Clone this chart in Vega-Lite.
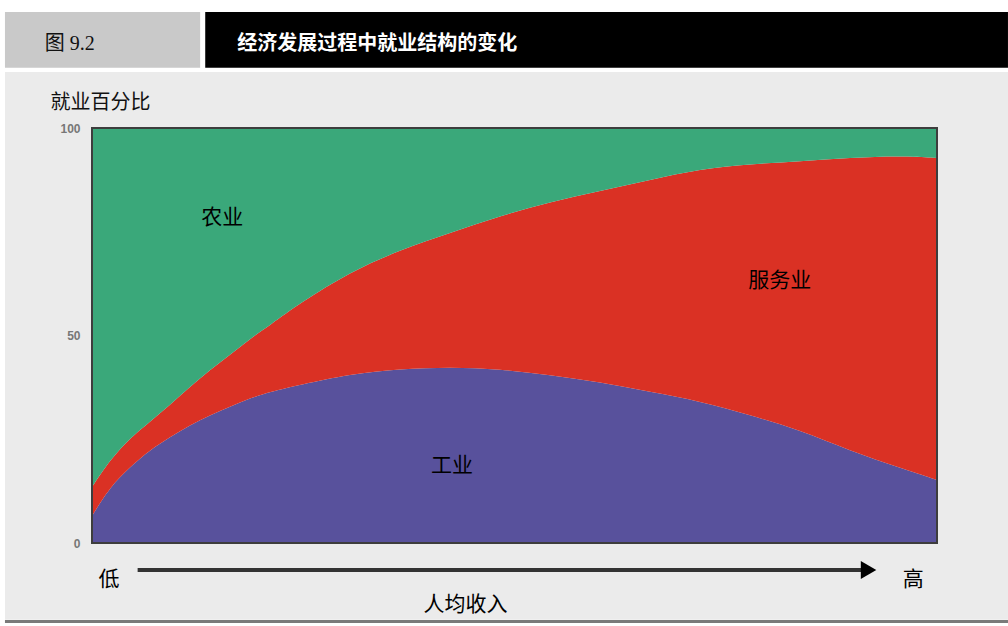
{
  "$schema": "https://vega.github.io/schema/vega-lite/v6.json",
  "width": 845,
  "height": 415,
  "autosize": "none",
  "padding": {"left": 92, "top": 128, "right": 71, "bottom": 83},
  "background": "#ffffff",
  "config": {"view": {"stroke": null}, "font": "Noto Sans CJK SC"},
  "data": {"values": [
    {"income": 0, "sector": "工业", "o": 1, "share": 6.5}, {"income": 0, "sector": "服务业", "o": 2, "share": 7.0}, {"income": 0, "sector": "农业", "o": 3, "share": 86.5},
    {"income": 2.13, "sector": "工业", "o": 1, "share": 13.5}, {"income": 2.13, "sector": "服务业", "o": 2, "share": 6.5}, {"income": 2.13, "sector": "农业", "o": 3, "share": 80.0},
    {"income": 4.5, "sector": "工业", "o": 1, "share": 18.3}, {"income": 4.5, "sector": "服务业", "o": 2, "share": 7.0}, {"income": 4.5, "sector": "农业", "o": 3, "share": 74.7},
    {"income": 6.86, "sector": "工业", "o": 1, "share": 22.4}, {"income": 6.86, "sector": "服务业", "o": 2, "share": 6.8}, {"income": 6.86, "sector": "农业", "o": 3, "share": 70.8},
    {"income": 9.23, "sector": "工业", "o": 1, "share": 25.5}, {"income": 9.23, "sector": "服务业", "o": 2, "share": 7.8}, {"income": 9.23, "sector": "农业", "o": 3, "share": 66.7},
    {"income": 11.6, "sector": "工业", "o": 1, "share": 28.4}, {"income": 11.6, "sector": "服务业", "o": 2, "share": 9.2}, {"income": 11.6, "sector": "农业", "o": 3, "share": 62.4},
    {"income": 13.96, "sector": "工业", "o": 1, "share": 30.8}, {"income": 13.96, "sector": "服务业", "o": 2, "share": 10.9}, {"income": 13.96, "sector": "农业", "o": 3, "share": 58.3},
    {"income": 16.33, "sector": "工业", "o": 1, "share": 32.8}, {"income": 16.33, "sector": "服务业", "o": 2, "share": 12.5}, {"income": 16.33, "sector": "农业", "o": 3, "share": 54.7},
    {"income": 18.7, "sector": "工业", "o": 1, "share": 34.9}, {"income": 18.7, "sector": "服务业", "o": 2, "share": 14.3}, {"income": 18.7, "sector": "农业", "o": 3, "share": 50.8},
    {"income": 21.07, "sector": "工业", "o": 1, "share": 36.4}, {"income": 21.07, "sector": "服务业", "o": 2, "share": 16.1}, {"income": 21.07, "sector": "农业", "o": 3, "share": 47.5},
    {"income": 24.62, "sector": "工业", "o": 1, "share": 38.1}, {"income": 24.62, "sector": "服务业", "o": 2, "share": 19.7}, {"income": 24.62, "sector": "农业", "o": 3, "share": 42.2},
    {"income": 30.53, "sector": "工业", "o": 1, "share": 40.7}, {"income": 30.53, "sector": "服务业", "o": 2, "share": 24.6}, {"income": 30.53, "sector": "农业", "o": 3, "share": 34.7},
    {"income": 36.45, "sector": "工业", "o": 1, "share": 41.9}, {"income": 36.45, "sector": "服务业", "o": 2, "share": 28.7}, {"income": 36.45, "sector": "农业", "o": 3, "share": 29.4},
    {"income": 42.37, "sector": "工业", "o": 1, "share": 42.4}, {"income": 42.37, "sector": "服务业", "o": 2, "share": 32.3}, {"income": 42.37, "sector": "农业", "o": 3, "share": 25.3},
    {"income": 48.28, "sector": "工业", "o": 1, "share": 41.9}, {"income": 48.28, "sector": "服务业", "o": 2, "share": 36.9}, {"income": 48.28, "sector": "农业", "o": 3, "share": 21.2},
    {"income": 54.2, "sector": "工业", "o": 1, "share": 40.5}, {"income": 54.2, "sector": "服务业", "o": 2, "share": 41.7}, {"income": 54.2, "sector": "农业", "o": 3, "share": 17.8},
    {"income": 60.12, "sector": "工业", "o": 1, "share": 38.8}, {"income": 60.12, "sector": "服务业", "o": 2, "share": 46.0}, {"income": 60.12, "sector": "农业", "o": 3, "share": 15.2},
    {"income": 66.04, "sector": "工业", "o": 1, "share": 36.4}, {"income": 66.04, "sector": "服务业", "o": 2, "share": 51.1}, {"income": 66.04, "sector": "农业", "o": 3, "share": 12.5},
    {"income": 71.95, "sector": "工业", "o": 1, "share": 34.2}, {"income": 71.95, "sector": "服务业", "o": 2, "share": 55.9}, {"income": 71.95, "sector": "农业", "o": 3, "share": 9.9},
    {"income": 77.87, "sector": "工业", "o": 1, "share": 30.8}, {"income": 77.87, "sector": "服务业", "o": 2, "share": 60.5}, {"income": 77.87, "sector": "农业", "o": 3, "share": 8.7},
    {"income": 83.79, "sector": "工业", "o": 1, "share": 27.2}, {"income": 83.79, "sector": "服务业", "o": 2, "share": 64.8}, {"income": 83.79, "sector": "农业", "o": 3, "share": 8.0},
    {"income": 89.7, "sector": "工业", "o": 1, "share": 22.2}, {"income": 89.7, "sector": "服务业", "o": 2, "share": 70.6}, {"income": 89.7, "sector": "农业", "o": 3, "share": 7.2},
    {"income": 95.62, "sector": "工业", "o": 1, "share": 18.1}, {"income": 95.62, "sector": "服务业", "o": 2, "share": 75.2}, {"income": 95.62, "sector": "农业", "o": 3, "share": 6.7},
    {"income": 100, "sector": "工业", "o": 1, "share": 15.2}, {"income": 100, "sector": "服务业", "o": 2, "share": 77.6}, {"income": 100, "sector": "农业", "o": 3, "share": 7.2}
  ]},
  "layer": [
    {
      "data": {"values": [{}]},
      "mark": {"type": "rect", "fill": "#ebebeb", "clip": false},
      "encoding": {
        "x": {"datum": -10.3, "type": "quantitative", "scale": {"domain": [0, 100], "nice": false, "zero": false}, "axis": null},
        "x2": {"datum": 108.4},
        "y": {"datum": 113.5, "type": "quantitative", "scale": {"domain": [0, 100], "nice": false, "zero": false},
          "axis": {"values": [0, 50, 100], "ticks": false, "domain": false, "grid": false, "zindex": 2,
            "labelFont": "Liberation Sans", "labelFontSize": 12, "labelFontWeight": "bold", "labelColor": "#777", "labelPadding": 12,
            "title": "就业百分比", "titleAngle": 0, "titleAlign": "left", "titleBaseline": "middle",
            "titleX": -42, "titleY": -26, "titleFontSize": 20, "titleFontWeight": "normal", "titleColor": "#111"}},
        "y2": {"datum": -18.5}
      }
    },
    {
      "data": {"values": [{}]},
      "mark": {"type": "rule", "stroke": "#7a7a7a", "strokeWidth": 3, "clip": false},
      "encoding": {
        "x": {"datum": -10.3, "type": "quantitative", "axis": null},
        "x2": {"datum": 108.4},
        "y": {"datum": -18.9, "type": "quantitative"}
      }
    },
    {
      "data": {"values": [{}]},
      "mark": {"type": "rect", "fill": "#c9c9c9", "clip": false},
      "encoding": {
        "x": {"datum": -10.3, "type": "quantitative", "axis": null},
        "x2": {"datum": 12.8},
        "y": {"datum": 127.95, "type": "quantitative"},
        "y2": {"datum": 114.5}
      }
    },
    {
      "data": {"values": [{}]},
      "mark": {"type": "rect", "fill": "#000000", "clip": false},
      "encoding": {
        "x": {"datum": 13.4, "type": "quantitative", "axis": null},
        "x2": {"datum": 108.4},
        "y": {"datum": 127.95, "type": "quantitative"},
        "y2": {"datum": 114.5}
      }
    },
    {
      "data": {"values": [{}]},
      "mark": {"type": "text", "text": "图 9.2", "font": "Liberation Serif, Noto Sans CJK SC", "fontSize": 20, "color": "#111", "align": "left", "baseline": "middle", "clip": false},
      "encoding": {
        "x": {"datum": -5.6, "type": "quantitative", "axis": null},
        "y": {"datum": 120.3, "type": "quantitative"}
      }
    },
    {
      "data": {"values": [{}]},
      "mark": {"type": "text", "text": "经济发展过程中就业结构的变化", "fontSize": 20, "fontWeight": "bold", "color": "#ffffff", "align": "left", "baseline": "middle", "clip": false},
      "encoding": {
        "x": {"datum": 17.2, "type": "quantitative", "axis": null},
        "y": {"datum": 120.3, "type": "quantitative"}
      }
    },
    {
      "mark": {"type": "area", "interpolate": "basis"},
      "encoding": {
        "x": {"field": "income", "type": "quantitative", "axis": null},
        "y": {"field": "share", "type": "quantitative", "stack": "zero"},
        "color": {"field": "sector", "type": "nominal", "legend": null,
          "scale": {"domain": ["工业", "服务业", "农业"], "range": ["#58519c", "#da3124", "#3aa87a"]}},
        "order": {"field": "o", "type": "quantitative"}
      }
    },
    {
      "data": {"values": [{}]},
      "mark": {"type": "rect", "fillOpacity": 0, "stroke": "#3d3d3d", "strokeWidth": 2, "clip": false},
      "encoding": {
        "x": {"datum": 0, "type": "quantitative", "axis": null},
        "x2": {"datum": 100},
        "y": {"datum": 0, "type": "quantitative"},
        "y2": {"datum": 100}
      }
    },
    {
      "data": {"values": [
        {"label": "农业", "lx": 15.4, "ly": 78.3},
        {"label": "服务业", "lx": 81.4, "ly": 63.1},
        {"label": "工业", "lx": 42.6, "ly": 18.6}
      ]},
      "mark": {"type": "text", "fontSize": 21, "color": "#000", "baseline": "middle"},
      "encoding": {
        "x": {"field": "lx", "type": "quantitative", "axis": null},
        "y": {"field": "ly", "type": "quantitative"},
        "text": {"field": "label"}
      }
    },
    {
      "data": {"values": [{}]},
      "mark": {"type": "rule", "stroke": "#333", "strokeWidth": 4, "clip": false},
      "encoding": {
        "x": {"datum": 5.4, "type": "quantitative", "axis": null},
        "x2": {"datum": 91.5},
        "y": {"datum": -6.5, "type": "quantitative"}
      }
    },
    {
      "data": {"values": [{}]},
      "mark": {"type": "point", "shape": "triangle-right", "filled": true, "color": "#000", "size": 320, "opacity": 1, "clip": false},
      "encoding": {
        "x": {"datum": 91.9, "type": "quantitative", "axis": null},
        "y": {"datum": -6.5, "type": "quantitative"}
      }
    },
    {
      "data": {"values": [
        {"label": "低", "lx": 2.0, "ly": -8.9},
        {"label": "高", "lx": 97.2, "ly": -8.9},
        {"label": "人均收入", "lx": 44.2, "ly": -14.9}
      ]},
      "mark": {"type": "text", "fontSize": 21, "color": "#000", "baseline": "middle", "clip": false},
      "encoding": {
        "x": {"field": "lx", "type": "quantitative", "axis": null},
        "y": {"field": "ly", "type": "quantitative"},
        "text": {"field": "label"}
      }
    }
  ]
}
